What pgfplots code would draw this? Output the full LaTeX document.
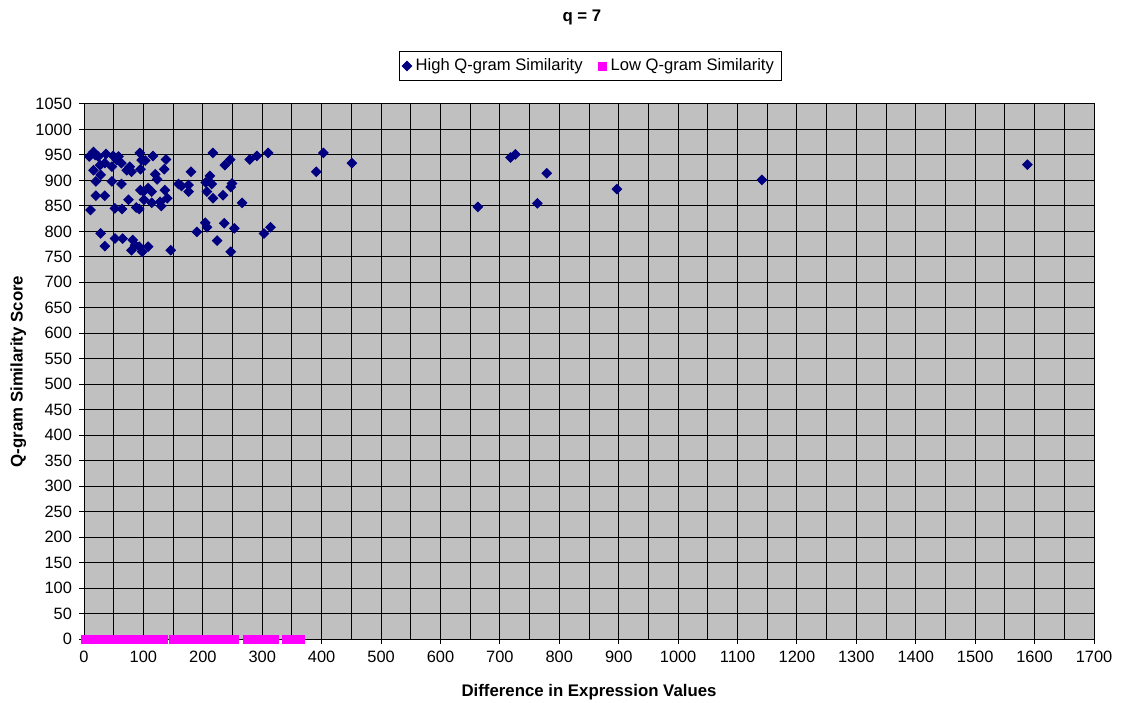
\documentclass[border=0pt]{standalone}
\usepackage{pgfplots}
\pgfplotsset{compat=1.18}
\usepackage{fontspec}
\setmainfont{Liberation Sans}
\definecolor{navyx}{RGB}{0,0,128}
\definecolor{magx}{RGB}{255,0,255}
\definecolor{plotgray}{RGB}{192,192,192}
\begin{document}
\begin{tikzpicture}
\useasboundingbox (-42pt,-31.5pt) rectangle (519pt,319.5pt);
\begin{axis}[
  scale only axis, width=505pt, height=267.5pt,
  at={(0pt,0pt)}, anchor=south west,
  xmin=0, xmax=1700, ymin=0, ymax=1050,
  xtick={0,100,...,1700}, ytick={0,50,...,1050},
  minor xtick={50,150,...,1650},
  grid=both,
  major grid style={black, line width=0.5pt},
  minor grid style={black, line width=0.5pt},
  minor tick length=0pt,
  major tick length=2.5pt,
  tick align=outside,
  xtick pos=bottom, ytick pos=left,
  tick style={black, line width=0.5pt},
  axis line style={black, line width=0.5pt},
  axis background/.style={fill=plotgray},
  clip=false,
  /pgf/number format/assume math mode=true,
  /pgf/number format/1000 sep={},
  ticklabel style={font=\fontsize{8.2}{9.8}\selectfont},
  every axis title shift=0pt,
  title={q = 7},
  title style={font=\bfseries\fontsize{8.4}{10}\selectfont, at={(axis description cs:0.493,1.161)}, anchor=center, yshift=0pt},
  xlabel={Difference in Expression Values},
  ylabel={Q-gram Similarity Score},
  label style={font=\bfseries\fontsize{8.4}{10}\selectfont},
  xlabel style={at={(axis description cs:0.5,-0.1)}, anchor=center},
  ylabel style={at={(axis description cs:-0.065,0.5)}, anchor=center},
  legend columns=2,
  legend style={at={(0.501,1.071)}, anchor=center, draw=black, fill=white,
    font=\fontsize{8.3}{10}\selectfont, inner sep=1.5pt,
    /tikz/every even column/.append style={column sep=6pt}},
]
\addplot[only marks, mark=square*, mark size=1.7pt, color=navyx, mark options={rotate=45, fill=navyx, draw=navyx}] coordinates {
(9,947) (16,956) (19,950) (24,947) (37,952) (49,948) (58,947) (94,954) (116,948) (217,954) (310,954)
(16,920) (27,930) (35,934) (47,927) (55,940) (63,934) (72,920) (77,927) (80,917) (97,940) (103,939)
(95,922) (138,941) (135,922) (20,898) (28,911) (47,898) (63,893) (120,912) (123,902) (180,917)
(159,893) (176,891) (176,878) (212,909) (205,896) (215,893) (207,878) (217,865) (234,871) (237,930)
(246,941) (249,894) (247,887) (279,941) (291,948) (266,856) (20,870) (35,870) (95,881) (100,878)
(108,885) (114,878) (101,862) (114,856) (128,858) (136,881) (140,865) (130,850) (75,862) (52,845)
(64,844) (88,847) (93,844) (11,842) (28,796) (35,771) (52,786) (65,786) (82,783) (86,773) (93,770)
(80,763) (98,760) (108,770) (146,763) (190,799) (204,817) (207,808) (224,782) (236,816) (253,806)
(247,760) (303,796) (314,808) (164,889)
(403,954) (451,934) (391,917) (663,848) (718,945) (726,951) (779,914) (763,855) (897,883)
(1141,901) (1588,931)
};
\addlegendentry{High Q-gram Similarity}
\addplot[only marks, mark=square*, mark size=2pt, color=magx, mark options={fill=magx, draw=magx}] coordinates {
(3,0) (5,0) (8,0) (10,0) (13,0) (15,0) (18,0) (21,0) (24,0) (26,0) (29,0) (32,0) (35,0) (37,0)
(40,0) (43,0) (46,0) (48,0) (51,0) (54,0) (57,0) (60,0) (62,0) (65,0) (68,0) (71,0) (73,0) (76,0)
(79,0) (82,0) (85,0) (87,0) (90,0) (93,0) (96,0) (99,0) (101,0) (104,0) (107,0) (110,0) (113,0)
(116,0) (118,0) (121,0) (124,0) (127,0) (130,0) (133,0)
(150,0) (153,0) (156,0) (159,0) (162,0) (164,0) (167,0) (170,0) (173,0) (176,0) (179,0) (182,0)
(185,0) (188,0) (191,0) (194,0) (197,0) (199,0) (202,0) (205,0) (208,0) (211,0) (214,0) (217,0)
(220,0) (223,0) (226,0) (229,0) (232,0) (235,0) (238,0) (241,0) (244,0) (247,0) (250,0) (253,0)
(275,0) (278,0) (281,0) (284,0) (287,0) (290,0) (293,0) (296,0) (299,0) (302,0) (305,0) (308,0)
(311,0) (314,0) (317,0) (320,0)
(340,0) (343,0) (346,0) (349,0) (352,0) (355,0) (358,0) (361,0) (365,0)
};
\addlegendentry{Low Q-gram Similarity}
\end{axis}
\end{tikzpicture}
\end{document}
